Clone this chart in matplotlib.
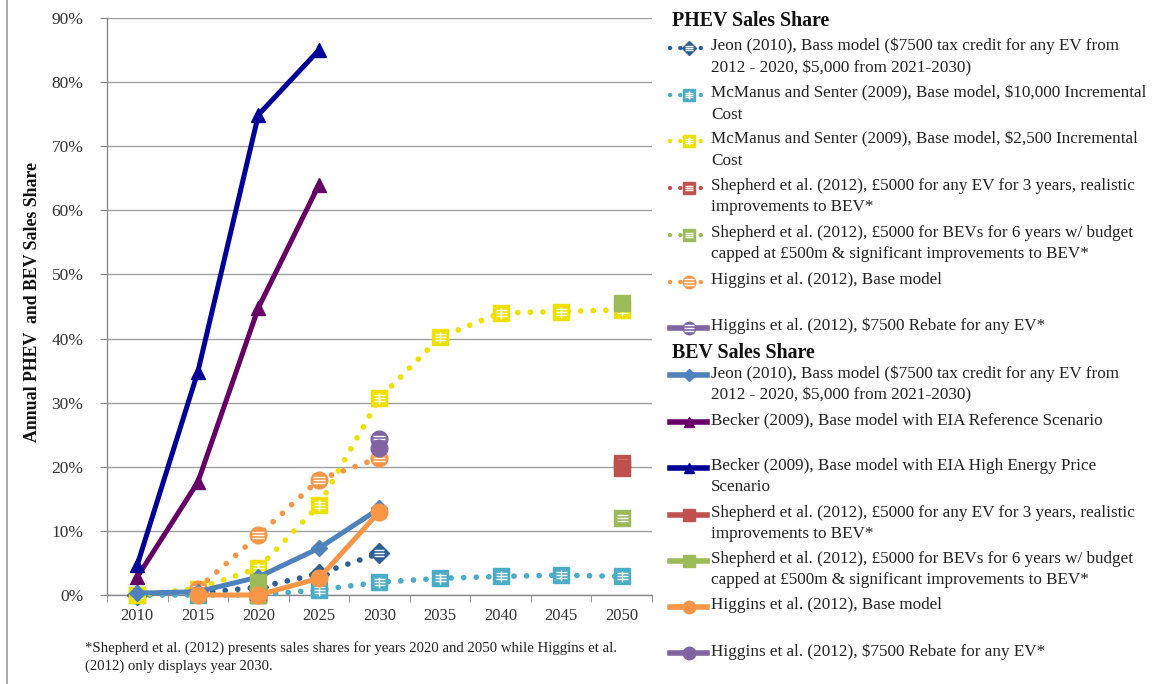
import numpy as np
import matplotlib
matplotlib.use("Agg")
import matplotlib.pyplot as plt
from matplotlib.path import Path
from matplotlib.lines import Line2D

nan = np.nan
years = ["2010", "2015", "2020", "2025", "2030", "2035", "2040", "2045", "2050"]

# PHEV sales share (%)
phev_jeon = [0.0, 0.3, 1.2, 3.3, 6.5, nan, nan, nan, nan]
phev_mcm_10k = [0.0, 0.0, 0.0, 0.8, 2.0, 2.6, 2.9, 3.1, 2.9]
phev_mcm_2500 = [0.0, 1.0, 4.2, 14.0, 30.7, 40.2, 44.0, 44.2, 44.5]
phev_shep_red = [nan, nan, 0.0, nan, nan, nan, nan, nan, 20.6]
phev_shep_green = [nan, nan, 0.0, nan, nan, nan, nan, nan, 12.0]
phev_higgins_base = [nan, 1.0, 9.3, 18.0, 21.4, nan, nan, nan, nan]
phev_higgins_rebate = [nan, nan, nan, nan, 24.3, nan, nan, nan, nan]

# BEV sales share (%)
bev_jeon = [0.3, 0.5, 2.8, 7.3, 13.5, nan, nan, nan, nan]
bev_becker_ref = [2.8, 17.6, 44.8, 64.0, nan, nan, nan, nan, nan]
bev_becker_high = [4.7, 34.8, 74.9, 85.0, nan, nan, nan, nan, nan]
bev_shep_red = [nan, nan, 0.5, nan, nan, nan, nan, nan, 19.8]
bev_shep_green = [nan, nan, 2.0, nan, nan, nan, nan, nan, 45.5]
bev_higgins_base = [nan, 0.0, 0.0, 2.6, 13.0, nan, nan, nan, nan]
bev_higgins_rebate = [nan, nan, nan, nan, 23.0, nan, nan, nan, nan]

phev_labels = [
    "Jeon (2010), Bass model ($7500 tax credit for any EV from\n2012 - 2020, $5,000 from 2021-2030)",
    "McManus and Senter (2009), Base model, $10,000 Incremental\nCost",
    "McManus and Senter (2009), Base model, $2,500 Incremental\nCost",
    "Shepherd et al. (2012), \u00a35000 for any EV for 3 years, realistic\nimprovements to BEV*",
    "Shepherd et al. (2012), \u00a35000 for BEVs for 6 years w/ budget\ncapped at \u00a3500m & significant improvements to BEV*",
    "Higgins et al. (2012), Base model",
    "Higgins et al. (2012), $7500 Rebate for any EV*",
]
bev_labels = [
    "Jeon (2010), Bass model ($7500 tax credit for any EV from\n2012 - 2020, $5,000 from 2021-2030)",
    "Becker (2009), Base model with EIA Reference Scenario",
    "Becker (2009), Base model with EIA High Energy Price\nScenario",
    "Shepherd et al. (2012), \u00a35000 for any EV for 3 years, realistic\nimprovements to BEV*",
    "Shepherd et al. (2012), \u00a35000 for BEVs for 6 years w/ budget\ncapped at \u00a3500m & significant improvements to BEV*",
    "Higgins et al. (2012), Base model",
    "Higgins et al. (2012), $7500 Rebate for any EV*",
]

# pattern marker paths
def stripes_path():
    verts, codes = [], []
    for yy in (-0.55, 0.0, 0.55):
        verts += [(-1, yy), (1, yy)]
        codes += [Path.MOVETO, Path.LINETO]
    return Path(verts, codes)

def grid_path():
    verts, codes = [], []
    for yy in (-0.5, 0.0, 0.5):
        verts += [(-1, yy), (1, yy)]
        codes += [Path.MOVETO, Path.LINETO]
    verts += [(0, -1), (0, 1)]
    codes += [Path.MOVETO, Path.LINETO]
    return Path(verts, codes)

STRIPES = stripes_path()
GRID = grid_path()

SERIF = ["Liberation Serif", "DejaVu Serif"]

# style: (color, plot linestyle, legend linestyle, marker, size, pattern)
phev_styles = [
    ("#2F5E96", "dot", "dot", "D", 10, STRIPES),
    ("#4BACC6", "dot", "dot", "s", 11, GRID),
    ("#EEE000", "dot", "dot", "s", 11, GRID),
    ("#C0504D", "none", "dot", "s", 11, STRIPES),
    ("#9BBB59", "none", "dot", "s", 11, STRIPES),
    ("#F79646", "dot", "dot", "o", 12, STRIPES),
    ("#8064A2", "solid", "solid", "o", 12, STRIPES),
]
bev_styles = [
    ("#4F81BD", "solid", "solid", "D", 8, None),
    ("#660066", "solid", "solid", "^", 10, None),
    ("#000099", "solid", "solid", "^", 10, None),
    ("#C0504D", "none", "solid", "s", 11, None),
    ("#9BBB59", "none", "solid", "s", 11, None),
    ("#F79646", "solid", "solid", "o", 12, None),
    ("#8064A2", "solid", "solid", "o", 12, None),
]

DOT = (0, (0.01, 2.2))

def draw_series(ax, x, y, style, z, legend=False):
    color, ls, lls, mk, ms, pat = style
    mev = None
    if legend:
        mev = [1]
        if lls == "solid":
            kw = dict(linestyle="-", linewidth=4.0)
        else:
            kw = dict(linestyle=(0, (0.01, 2.3)), linewidth=3.2, dash_capstyle="round")
    else:
        if ls == "dot":
            kw = dict(linestyle=DOT, linewidth=4.1, dash_capstyle="round")
        elif ls == "solid":
            kw = dict(linestyle="-", linewidth=3.6)
        else:
            kw = dict(linestyle="none")
    ax.plot(x, y, color=color, marker=mk, markersize=ms if not legend else ms * 0.75,
            markerfacecolor=color, markeredgecolor=color, zorder=z, clip_on=False,
            markevery=mev, **kw)
    if pat is not None:
        ax.plot(x, y, linestyle="none", marker=pat,
                markersize=(ms * 0.72) if not legend else ms * 0.55,
                markerfacecolor="none", markeredgecolor="white",
                markeredgewidth=1.0, zorder=z + 0.5, clip_on=False, markevery=mev)

fig = plt.figure(figsize=(11.57, 6.84), dpi=100)
ax = fig.add_axes([107 / 1157, 1 - 595 / 684, (652 - 107) / 1157, (595 - 18) / 684])

x = np.arange(len(years))
phev_data = [phev_jeon, phev_mcm_10k, phev_mcm_2500, phev_shep_red,
             phev_shep_green, phev_higgins_base, phev_higgins_rebate]
bev_data = [bev_jeon, bev_becker_ref, bev_becker_high, bev_shep_red,
            bev_shep_green, bev_higgins_base, bev_higgins_rebate]

z = 3
for d, st in zip(phev_data, phev_styles):
    draw_series(ax, x, np.array(d, dtype=float), st, z)
    z += 1
for d, st in zip(bev_data, bev_styles):
    draw_series(ax, x, np.array(d, dtype=float), st, z)
    z += 1

ax.set_xlim(-0.5, len(years) - 0.5)
ax.set_ylim(0, 90)
ax.set_yticks(np.arange(0, 91, 10))
ax.set_yticklabels([f"{v}%" for v in range(0, 91, 10)])
ax.set_xticks(x)
ax.set_xticklabels(years)
ax.set_xticks(np.arange(-0.5, len(years), 1), minor=True)
ax.tick_params(axis="x", which="major", length=0, pad=9, labelsize=12, labelcolor="#333333")
ax.tick_params(axis="x", which="minor", length=5, color="#888888", direction="out")
ax.tick_params(axis="y", which="major", length=5, color="#888888", pad=12,
               labelsize=12.5, labelcolor="#333333")
for lab in ax.get_xticklabels() + ax.get_yticklabels():
    lab.set_family(SERIF)
ax.grid(axis="y", color="#A0A0A0", linewidth=1.0, zorder=0)
ax.set_axisbelow(True)
for s in ("top", "right"):
    ax.spines[s].set_visible(False)
for s in ("left", "bottom"):
    ax.spines[s].set_color("#888888")
    ax.spines[s].set_linewidth(1.0)

fig.text(33 / 1157, 1 - 302 / 684, "Annual PHEV  and BEV Sales Share", rotation=90,
         ha="center", va="center", fontsize=12.8, fontweight="bold",
         family=SERIF, color="#111111")

fig.text(85 / 1157, 1 - 657 / 684,
         "*Shepherd et al. (2012) presents sales shares for years 2020 and 2050 while Higgins et al.\n"
         "(2012) only displays year 2030.",
         ha="left", va="center", fontsize=10.6, family=SERIF, color="#222222",
         linespacing=1.5)

# frame line on the left
fig.add_artist(Line2D([7 / 1157, 7 / 1157], [0, 1], color="#999999", linewidth=1.2))

# legend
lax = fig.add_axes([0, 0, 1, 1], facecolor="none")
lax.set_xlim(0, 1157)
lax.set_ylim(684, 0)
lax.axis("off")

lax.text(672, 21, "PHEV Sales Share", ha="left", va="center", fontsize=14.3,
         fontweight="bold", family=SERIF, color="#111111")
lax.text(672, 353, "BEV Sales Share", ha="left", va="center", fontsize=14.3,
         fontweight="bold", family=SERIF, color="#111111")

phev_y = [48, 95, 141, 188, 235, 282, 328]
bev_y = [375, 422, 468, 515, 561, 607, 653]

def legend_entry(yc, label, style):
    draw_series(lax, np.array([670, 689, 707]), np.array([yc, yc, yc]),
                style, 20, legend=True)
    lax.text(711, yc - 10, label, ha="left", va="top", fontsize=12.3, family=SERIF,
             color="#222222", linespacing=1.45)

for yc, lab, st in zip(phev_y, phev_labels, phev_styles):
    legend_entry(yc, lab, st)
for yc, lab, st in zip(bev_y, bev_labels, bev_styles):
    legend_entry(yc, lab, st)

fig.savefig("out.png", dpi=100)
